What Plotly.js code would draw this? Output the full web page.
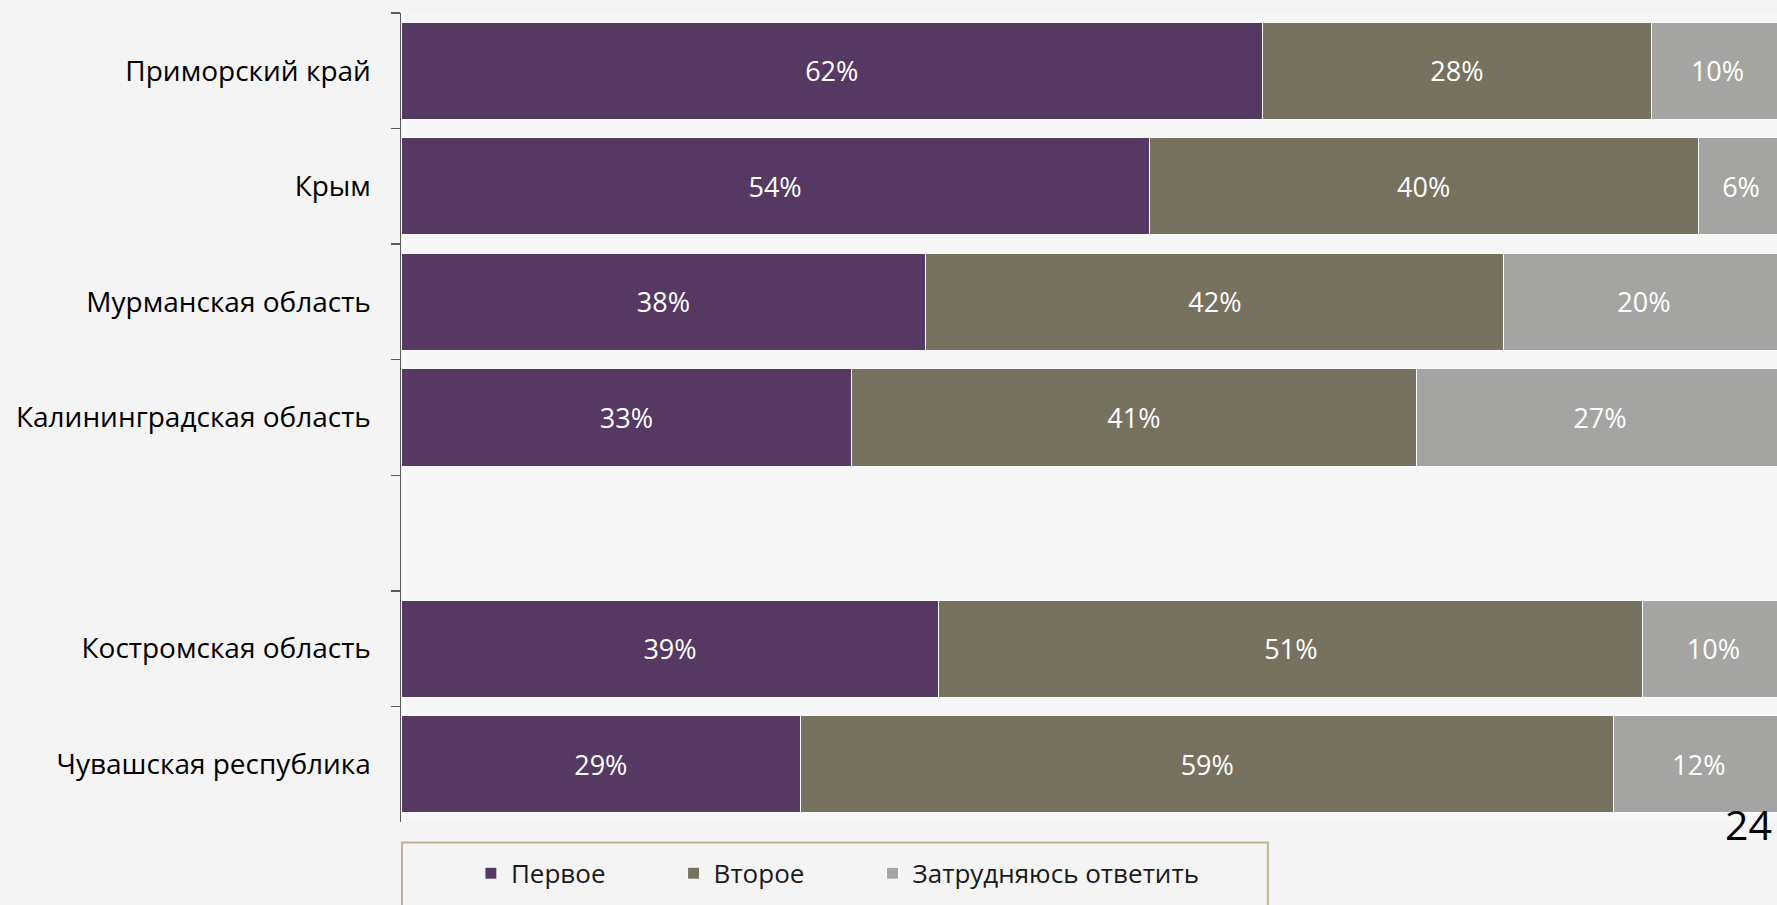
<!DOCTYPE html>
<html>
<head>
<meta charset="utf-8">
<script src="https://cdn.plot.ly/plotly-3.0.1.min.js"></script>
<style>
html,body{margin:0;padding:0;background:#F4F4F4;}
#chart{width:1777px;height:905px;}
</style>
</head>
<body>
<div id="chart"></div>
<script>
// Categories, top to bottom (one empty slot between the two groups)
const categories = ["Приморский край", "Крым", "Мурманская область", "Калининградская область", " ", "Костромская область", "Чувашская республика"];
// Series values (%)
const first  = [62.3, 54.1, 37.95, 32.6, null, 38.9, 28.9];
const second = [28.1, 39.7, 41.8, 40.8, null, 50.9, 58.8];
const unsure = [9.6, 6.2, 20.25, 26.6, null, 10.2, 12.3];
const seriesNames = ["Первое", "Второе", "Затрудняюсь ответить"];
const seriesColors = ["#553963", "#777160", "#A4A5A2"];
const pageNumber = "24";

const font = "Open Sans, Noto Sans, sans-serif";
const series = [first, second, unsure];
const legendIds = ["legend", "legend2", "legend3"];
const legendX = [0.0508, 0.1981, 0.3427];

const traces = series.map((vals, i) => ({
  type: "bar",
  orientation: "h",
  name: seriesNames[i],
  legend: legendIds[i],
  y: categories,
  x: vals,
  marker: {color: seriesColors[i], line: {color: "#FFFFFF", width: 1}},
  texttemplate: "%{x:.0f}%",
  textposition: "inside",
  insidetextanchor: "middle",
  constraintext: "none",
  textangle: 0,
  textfont: {family: font, size: 27, color: "#FFFFFF"},
  hoverinfo: "skip"
}));

const layout = {
  width: 1777, height: 905,
  margin: {l: 401, r: 0, t: 13, b: 82.5},
  paper_bgcolor: "#F4F4F4",
  plot_bgcolor: "#F7F7F7",
  barmode: "stack",
  bargap: 0.16,
  font: {family: font, color: "#000000"},
  showlegend: true,
  xaxis: {
    range: [0, 99.5],
    showgrid: false, zeroline: false, showline: false,
    showticklabels: false, ticks: "", fixedrange: true
  },
  yaxis: {
    type: "category",
    autorange: "reversed",
    showgrid: false, zeroline: false,
    showline: true, linecolor: "#595959", linewidth: 1.5,
    ticks: "outside", ticklen: 9, tickwidth: 1.5, tickcolor: "#595959",
    tickson: "boundaries",
    ticklabelstandoff: 23,
    tickfont: {family: font, size: 28, color: "#000000"},
    fixedrange: true
  },
  shapes: [{
    type: "rect", xref: "paper", yref: "paper",
    x0: 0.0007, x1: 0.630, y0: -0.0254, y1: -0.2,
    line: {color: "#BFB394", width: 2},
    fillcolor: "rgba(0,0,0,0)", layer: "below"
  }],
  annotations: [{
    text: pageNumber, xref: "paper", yref: "paper",
    x: 1, y: -0.0093, xanchor: "right", yanchor: "middle",
    xshift: -3, yshift: 6, showarrow: false,
    font: {family: font, size: 41, color: "#000000"}
  }]
};

legendIds.forEach((id, i) => {
  layout[id] = {
    orientation: "h",
    x: legendX[i], xanchor: "left",
    y: -0.0634, yanchor: "middle",
    bgcolor: "rgba(0,0,0,0)",
    font: {family: font, size: 26, color: "#1A1A1A"}
  };
});

Plotly.newPlot("chart", traces, layout, {displayModeBar: false, staticPlot: true});
</script>
</body>
</html>
